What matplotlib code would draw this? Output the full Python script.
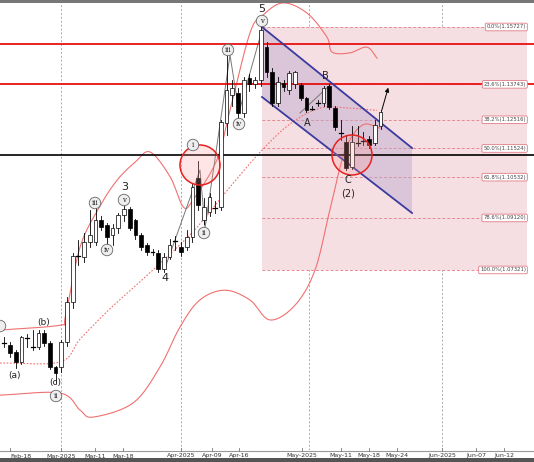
import matplotlib
matplotlib.use("Agg")
import matplotlib.pyplot as plt
from matplotlib.patches import Rectangle, Polygon, Ellipse
import numpy as np

opens = [1.0483,1.0472,1.0448,1.0413,1.0500,1.0468,1.0465,1.0514,1.0479,1.0396,
         1.0396,1.0483,1.0621,1.0776,1.0776,1.0829,1.0829,1.0905,1.0888,1.0853,
         1.0877,1.0922,1.0943,1.0905,1.0853,1.0818,1.0796,1.0791,1.0735,1.0776,
         1.0836,1.0812,1.0812,1.0846,1.1050,1.0905,1.0932,1.0950,1.0950,1.1240,
         1.1337,1.1344,1.1275,1.1396,1.1375,1.1389,1.1503,1.1417,1.1310,1.1379,
         1.1355,1.1375,1.1371,1.1327,1.1292,1.1310,1.1310,1.1368,1.1292,1.1209,
         1.1175,1.1088,1.1175,1.1180,1.1185,1.1171,1.1230]
closes = [1.0480,1.0444,1.0413,1.0500,1.0497,1.0465,1.0514,1.0479,1.0396,1.0375,
          1.0483,1.0621,1.0780,1.0780,1.0829,1.0853,1.0905,1.0881,1.0846,1.0877,
          1.0922,1.0943,1.0877,1.0853,1.0812,1.0794,1.0794,1.0735,1.0776,1.0819,
          1.0833,1.0794,1.0846,1.1019,1.0957,1.0950,1.0984,1.0948,1.1244,1.1355,
          1.1362,1.1275,1.1389,1.1375,1.1389,1.1562,1.1417,1.1310,1.1382,1.1365,
          1.1413,1.1417,1.1327,1.1284,1.1290,1.1308,1.1362,1.1296,1.1227,1.1205,
          1.1085,1.1175,1.1171,1.1178,1.1164,1.1234,1.1278]
highs = [1.0500,1.0483,1.0455,1.0503,1.0510,1.0524,1.0524,1.0524,1.0485,1.0400,
         1.0490,1.0640,1.0790,1.0835,1.0860,1.0940,1.0960,1.0920,1.0895,1.0890,
         1.0930,1.0960,1.0950,1.0910,1.0860,1.0825,1.0805,1.0800,1.0790,1.0840,
         1.0850,1.0830,1.0870,1.1030,1.1110,1.0980,1.1000,1.0970,1.1250,1.1480,
         1.1390,1.1360,1.1400,1.1410,1.1400,1.1573,1.1520,1.1430,1.1400,1.1390,
         1.1420,1.1420,1.1380,1.1330,1.1300,1.1320,1.1370,1.1375,1.1300,1.1250,
         1.1200,1.1230,1.1230,1.1210,1.1195,1.1250,1.1285]
lows = [1.0465,1.0430,1.0393,1.0405,1.0465,1.0455,1.0458,1.0470,1.0390,1.0341,
        1.0380,1.0470,1.0600,1.0750,1.0760,1.0810,1.0820,1.0870,1.0800,1.0820,
        1.0860,1.0900,1.0870,1.0840,1.0800,1.0785,1.0785,1.0725,1.0725,1.0770,
        1.0800,1.0780,1.0800,1.0830,1.0940,1.0890,1.0920,1.0930,1.0940,1.1200,
        1.1300,1.1250,1.1260,1.1350,1.1360,1.1370,1.1400,1.1300,1.1300,1.1350,
        1.1340,1.1360,1.1320,1.1280,1.1285,1.1300,1.1300,1.1290,1.1215,1.1180,
        1.1078,1.1080,1.1160,1.1165,1.1155,1.1165,1.1220]

up_x = [-0.75,9.8,10.7,13.3,16.8,19.8,23,25.6,29.1,31.4,33.1,37.3,39.6,43.1,45.4,48.9,53.1,56.6,57.5,60.6,63.6,65.4]
up_y = [1.0524,1.0541,1.0569,1.0812,1.0953,1.1043,1.1106,1.1140,1.1054,1.0950,1.0974,1.1113,1.1285,1.1552,1.1614,1.1656,1.1621,1.1538,1.1486,1.1483,1.1503,1.1465]
mid_x = [-0.75,9.8,13.3,18.5,23.8,30.8,34.3,39.6,44.9,50.1,55.4,60.6,65.4]
mid_y = [1.0410,1.0414,1.0493,1.0597,1.0691,1.0819,1.0891,1.1019,1.1140,1.1237,1.1292,1.1292,1.1284]
lo_x = [-0.75,9.8,13.3,15.6,22.6,27.3,30.8,34.3,38.7,43.1,46.6,51,54.5,57.1,59.8,62.8,65.9]
lo_y = [1.0299,1.0306,1.0247,1.0223,1.0272,1.0396,1.0534,1.0628,1.0662,1.0628,1.0559,1.0610,1.0731,1.0938,1.1146,1.1233,1.1223]

fib_labels = ["0.0%(1.15727)","23.6%(1.13743)","38.2%(1.12516)","50.0%(1.11524)",
              "61.8%(1.10532)","78.6%(1.09120)","100.0%(1.07321)"]
fib_values = [1.15727,1.13743,1.12516,1.11524,1.10532,1.09120,1.07321]
red_levels = [1.1513, 1.1375]
black_level = 1.1129

tick_labels = ["Feb-18","Mar-2025","Mar-11","Mar-18","Apr-2025","Apr-09","Apr-16",
               "May-2025","May-11","May-18","May-24","Jun-2025","Jun-07","Jun-12"]
tick_px = [10,61,95,123,181,212,239,302,341,369,397,442,476,504]

def X(px): return (px - 4.3) / 5.7
def P(py): return 1.16661 - 0.000346 * py

def smooth(xs, ys, n=12):
    xs = np.asarray(xs, float); ys = np.asarray(ys, float)
    px = np.concatenate([[2*xs[0]-xs[1]], xs, [2*xs[-1]-xs[-2]]])
    py = np.concatenate([[2*ys[0]-ys[1]], ys, [2*ys[-1]-ys[-2]]])
    ox, oy = [], []
    for k in range(1, len(px)-2):
        t = np.linspace(0, 1, n, endpoint=False)
        for arr, out in ((px, ox), (py, oy)):
            p0, p1, p2, p3 = arr[k-1], arr[k], arr[k+1], arr[k+2]
            out.extend(0.5*((2*p1) + (-p0+p2)*t + (2*p0-5*p1+4*p2-p3)*t**2 + (-p0+3*p1-3*p2+p3)*t**3))
    ox.append(xs[-1]); oy.append(ys[-1])
    return ox, oy

fig = plt.figure(figsize=(5.34, 4.62), dpi=100)
fig.patch.set_facecolor("white")
ax = fig.add_axes([0, 12/462, 1, 447/462])
ax.set_xlim(X(0), X(534)); ax.set_ylim(P(450), P(3))
ax.axis("off")

for px in [61, 181, 309, 442]:
    ax.axvline(X(px), color="#aaaaaa", lw=0.7, ls=(0, (2, 2)), zorder=0)

ax.add_patch(Rectangle((X(262), fib_values[-1]), X(527)-X(262), fib_values[0]-fib_values[-1],
                       fc="#f6dfe2", ec="none", zorder=0.5))
for lab, v in zip(fib_labels, fib_values):
    ax.plot([X(262), X(527)], [v, v], color="#e88a92", lw=0.7, ls=(0, (3, 2)), zorder=1)
    ax.text(X(526), v, lab, fontsize=3.8, ha="right", va="center", color="#444", zorder=6,
            bbox=dict(boxstyle="round,pad=0.25", fc="white", ec="#e07a84", lw=0.6))

ch = Polygon([(X(262), P(27)), (X(412), P(148)), (X(412), P(213)), (X(262), P(97))],
             closed=True, fc="#b9a8cc", ec="none", alpha=0.45, zorder=1)
ax.add_patch(ch)
ax.plot([X(262), X(412)], [P(27), P(148)], color="#3a3aa0", lw=1.3, zorder=4)
ax.plot([X(262), X(412)], [P(97), P(213)], color="#3a3aa0", lw=1.3, zorder=4)

for v in red_levels:
    ax.axhline(v, color="#e81010", lw=1.3, zorder=3)
ax.axhline(black_level, color="black", lw=1.2, zorder=3)

ax.plot(*smooth(up_x, up_y), color="#f07070", lw=0.8, zorder=2)
ax.plot(*smooth(mid_x, mid_y), color="#f07070", lw=0.8, ls=(0, (1.5, 1.5)), zorder=2)
ax.plot(*smooth(lo_x, lo_y), color="#f07070", lw=0.8, zorder=2)

ax.plot([X(165), X(200), X(205), X(230), X(239), X(262)],
        [P(268), P(170), P(228), P(55), P(112), P(30)], color="#777", lw=0.7, zorder=2.5)
ax.plot([X(300), X(330)], [P(113), P(85)], color="#777", lw=0.7, zorder=2.5)
ax.annotate("", xy=(X(389), P(85)), xytext=(X(381), P(113)),
            arrowprops=dict(arrowstyle="-|>", color="black", lw=0.7, mutation_scale=6), zorder=6)

for i, (o, c, h, l) in enumerate(zip(opens, closes, highs, lows)):
    ax.plot([i, i], [l, h], color="black", lw=0.6, zorder=4)
    if abs(c - o) < 0.0006:
        ax.plot([i-0.35, i+0.35], [c, c], color="black", lw=0.9, zorder=5)
    else:
        ax.add_patch(Rectangle((i-0.32, min(o, c)), 0.64, abs(c-o),
                               fc="white" if c > o else "black", ec="black", lw=0.5, zorder=5))

for (cx, cy) in [(200, 165), (352, 155)]:
    ax.add_patch(Ellipse((X(cx), P(cy)), 40/5.7, 40*0.000346, fc=(1, 0.6, 0.6, 0.25),
                         ec="#e82020", lw=1.1, zorder=6))

def lbl(px, py, s, fs=7, circ=False):
    kw = dict(fontsize=fs, ha="center", va="center", zorder=7, color="#222")
    if circ:
        kw["bbox"] = dict(boxstyle="circle,pad=0.25", fc="#eeeeee", ec="#666", lw=0.6)
        kw["fontsize"] = 5; kw["family"] = "DejaVu Serif"
    ax.text(X(px), P(py), s, **kw)

lbl(262, 9, "5", 8); lbl(262, 21, "v", circ=True)
lbl(228, 50, "iii", circ=True); lbl(239, 124, "iv", circ=True)
lbl(193, 145, "i", circ=True); lbl(204, 233, "ii", circ=True)
lbl(165, 278, "4", 8); lbl(125, 187, "3", 8)
lbl(95, 203, "iii", circ=True); lbl(124, 200, "v", circ=True); lbl(107, 250, "iv", circ=True)
lbl(44, 322, "(b)", 6.5); lbl(15, 375, "(a)", 6.5); lbl(55, 383, "(c)", 6.5)
lbl(56, 396, "ii", circ=True); lbl(0, 326, "  ", circ=True)
lbl(325, 76, "B", 7); lbl(307, 123, "A", 7); lbl(348, 180, "C", 7); lbl(348, 193, "(2)", 7)

fig.add_artist(plt.Line2D([0, 1], [1-451/462, 1-451/462], color="#999", lw=0.8))
fig.add_artist(Rectangle((0, 0), 1, 4/462, transform=fig.transFigure, fc="#555", ec="none"))
fig.add_artist(Rectangle((0, 1-3/462), 1, 3/462, transform=fig.transFigure, fc="#777", ec="none"))
for lab, px in zip(tick_labels, tick_px):
    fx = px / 534
    fig.add_artist(plt.Line2D([fx, fx], [1-451/462, 1-448/462], color="#777", lw=0.6))
    fig.text(fx, 1-456/462, lab, fontsize=4.5, ha="center" if px > 20 else "left", va="center", color="#333")

fig.savefig("out.png", dpi=100)
